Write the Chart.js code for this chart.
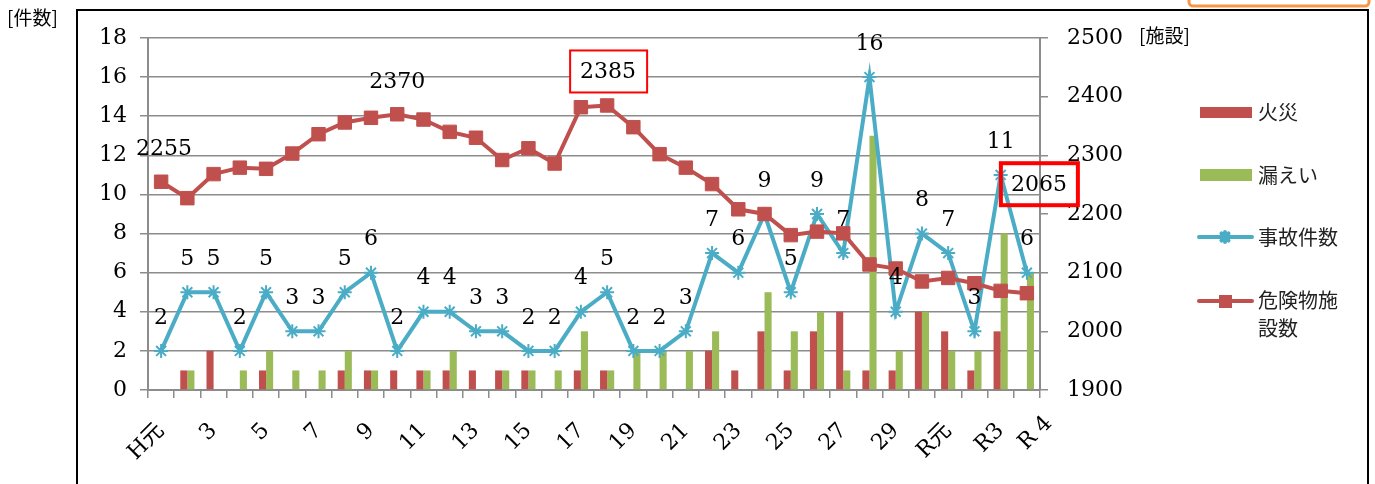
<!DOCTYPE html>
<html>
<head>
<meta charset="utf-8">
<script src="https://cdn.jsdelivr.net/npm/chart.js@4.4.1/dist/chart.umd.min.js"></script>
<style>
  body { margin: 0; background: #fff; }
</style>
</head>
<body>
<canvas id="chartAccidents" width="1375" height="484"></canvas>
<script>
// 年度（H元〜R4）
const years = ['H元', '2', '3', '4', '5', '6', '7', '8', '9', '10',
    '11', '12', '13', '14', '15', '16', '17', '18', '19', '20',
    '21', '22', '23', '24', '25', '26', '27', '28', '29', '30',
    'R元', 'R2', 'R3', 'R 4'];

const fires = [0, 1, 2, 0, 1, 0, 0, 1, 1, 1, 1, 1, 1, 1, 1, 0, 1, 1, 0, 0,
    0, 2, 1, 3, 1, 3, 4, 1, 1, 4, 3, 1, 3, 0];
const leaks = [0, 1, 0, 1, 2, 1, 1, 2, 1, 0, 1, 2, 0, 1, 1, 1, 3, 1, 2, 2,
    2, 3, 0, 5, 3, 4, 1, 13, 2, 4, 2, 2, 8, 6];
const accidents = [2, 5, 5, 2, 5, 3, 3, 5, 6, 2, 4, 4, 3, 3, 2, 2, 4, 5, 2, 2,
    3, 7, 6, 9, 5, 9, 7, 16, 4, 8, 7, 3, 11, 6];
const facilities = [2255, 2227, 2268, 2279, 2277, 2303, 2336, 2356, 2364, 2370,
    2361, 2340, 2330, 2292, 2312, 2286, 2382, 2385, 2348, 2302,
    2279, 2251, 2208, 2200, 2164, 2170, 2167, 2114, 2107, 2085,
    2091, 2082, 2069, 2065];

const legendNames = ['火災', '漏えい', '事故件数', '危険物施設数'];

const RED = '#C0504D';
const GREEN = '#9BBB59';
const BLUE = '#4BACC6';
const GRID = '#8c8c8c';
const NUM_FONT = '"DejaVu Serif", "Liberation Serif", serif';
const JP_FONT = '"Noto Sans CJK JP", sans-serif';
const TICK_FONT = { family: NUM_FONT + ', ' + JP_FONT, size: 22 };

// which facility values get a label, and where
const facilityLabels = [
    { i: 0, dx: 3, dy: -33 },
    { i: 9, dx: 0, dy: -33 },
    { i: 17, dx: 1, dy: -34, box: 2 },
    { i: 33, dx: 12, dy: -109, box: 4 }
];

const valueLabels = {
    id: 'valueLabels',
    afterDatasetsDraw(chart) {
        const ctx = chart.ctx;
        ctx.save();
        ctx.font = '22px ' + NUM_FONT;
        ctx.textAlign = 'center';
        ctx.textBaseline = 'middle';
        ctx.fillStyle = '#000';
        chart.getDatasetMeta(2).data.forEach(function (pt, i) {
            ctx.fillText(String(accidents[i]), pt.x, pt.y - 33);
        });
        const meta = chart.getDatasetMeta(3);
        facilityLabels.forEach(function (l) {
            const pt = meta.data[l.i];
            const x = pt.x + l.dx, y = pt.y + l.dy;
            if (l.box) {
                ctx.lineWidth = l.box;
                ctx.strokeStyle = '#ff0000';
                if (l.box < 3) {
                    ctx.fillStyle = '#fff';
                    ctx.fillRect(x - 38, y - 21, 77, 42);
                }
                ctx.strokeRect(x - 38, y - 21, 77, 42);
                ctx.fillStyle = '#000';
            }
            ctx.fillText(String(facilities[l.i]), x, y + 1);
        });

        // last year label sits a little right of its tick
        const last = years.length - 1;
        const xs = chart.scales.x;
        ctx.translate(xs.getPixelForValue(last) + 22, xs.top + 30);
        ctx.rotate(-Math.PI / 4);
        ctx.font = TICK_FONT.size + 'px ' + TICK_FONT.family;
        ctx.textAlign = 'right';
        ctx.fillText(years[last], 0, 0);
        ctx.restore();
    }
};

const frameAndLegend = {
    id: 'frameAndLegend',
    afterDraw(chart) {
        const ctx = chart.ctx;
        ctx.save();
        // outer frame
        ctx.strokeStyle = '#000';
        ctx.lineWidth = 2;
        ctx.strokeRect(77, 10, 1291, 500);
        // orange box peeking at top right
        ctx.strokeStyle = '#F79646';
        ctx.lineWidth = 3;
        ctx.beginPath();
        ctx.roundRect(1189, -10, 180, 16, 4);
        ctx.stroke();

        ctx.fillStyle = '#000';
        ctx.font = '19px ' + JP_FONT;
        ctx.textBaseline = 'middle';
        ctx.textAlign = 'left';
        ctx.fillText('[件数]', 7, 18);
        ctx.fillText('[施設]', 1139, 36);

        // legend
        ctx.fillStyle = RED;
        ctx.fillRect(1200, 107, 52, 11);
        ctx.fillStyle = GREEN;
        ctx.fillRect(1200, 169, 52, 12);

        ctx.lineCap = 'round';
        ctx.lineWidth = 4;
        ctx.strokeStyle = BLUE;
        ctx.beginPath();
        ctx.moveTo(1199, 237);
        ctx.lineTo(1252, 237);
        ctx.stroke();
        Chart.helpers.drawPoint(ctx, { pointStyle: 'star', radius: 5, borderWidth: 2 }, 1225, 237);

        ctx.strokeStyle = RED;
        ctx.beginPath();
        ctx.moveTo(1199, 301);
        ctx.lineTo(1252, 301);
        ctx.stroke();
        ctx.fillStyle = RED;
        ctx.fillRect(1219, 295, 13, 13);

        ctx.fillStyle = '#222';
        ctx.font = '20px ' + JP_FONT;
        ctx.fillText(legendNames[0], 1258, 112);
        ctx.fillText(legendNames[1], 1258, 175);
        ctx.fillText(legendNames[2], 1258, 237);
        ctx.fillText(legendNames[3].slice(0, 4), 1258, 300);
        ctx.fillText(legendNames[3].slice(4), 1258, 328);
        ctx.restore();
    }
};

new Chart(document.getElementById('chartAccidents'), {
    data: {
        labels: years,
        datasets: [
            {
                type: 'bar',
                label: legendNames[0],
                data: fires,
                backgroundColor: RED,
                yAxisID: 'y',
                order: 2,
                categoryPercentage: 0.54,
                barPercentage: 1
            },
            {
                type: 'bar',
                label: legendNames[1],
                data: leaks,
                backgroundColor: GREEN,
                yAxisID: 'y',
                order: 3,
                categoryPercentage: 0.54,
                barPercentage: 1
            },
            {
                type: 'line',
                label: legendNames[2],
                data: accidents,
                borderColor: BLUE,
                backgroundColor: BLUE,
                borderWidth: 4,
                pointStyle: 'star',
                pointRadius: 7,
                pointBorderWidth: 2,
                pointBorderColor: BLUE,
                tension: 0,
                yAxisID: 'y',
                order: 1
            },
            {
                type: 'line',
                label: legendNames[3],
                data: facilities,
                borderColor: RED,
                backgroundColor: RED,
                borderWidth: 4,
                pointStyle: 'rect',
                pointRadius: 9.5,
                pointBorderWidth: 1,
                pointBorderColor: RED,
                tension: 0,
                yAxisID: 'y1',
                order: 0
            }
        ]
    },
    options: {
        responsive: false,
        animation: false,
        layout: { padding: { left: 0, right: 235, top: 38, bottom: 0 } },
        plugins: {
            legend: { display: false },
            tooltip: { enabled: false }
        },
        scales: {
            x: {
                offset: true,
                grid: {
                    offset: true,
                    drawOnChartArea: false,
                    tickLength: 8,
                    color: GRID,
                    lineWidth: 1.5
                },
                border: { color: GRID, width: 2 },
                ticks: {
                    autoSkip: false,
                    maxRotation: 45,
                    minRotation: 45,
                    padding: 20,
                    color: '#000',
                    font: TICK_FONT,
                    callback: function (value, index) {
                        return (index % 2 === 0 && index < years.length - 1) ? years[index] : '';
                    }
                },
                afterFit: function (scale) { scale.height = 94; }
            },
            y: {
                position: 'left',
                min: 0,
                max: 18,
                ticks: {
                    stepSize: 2,
                    padding: 13,
                    color: '#000',
                    font: { family: NUM_FONT, size: 22 }
                },
                grid: { color: GRID, lineWidth: 1.5, tickLength: 8 },
                border: { color: GRID, width: 2 },
                afterFit: function (scale) { scale.width = 148; }
            },
            y1: {
                position: 'right',
                min: 1900,
                max: 2500,
                ticks: {
                    stepSize: 100,
                    padding: 19,
                    color: '#000',
                    font: { family: NUM_FONT, size: 22 },
                    callback: function (value) { return String(value); }
                },
                grid: { drawOnChartArea: false, color: GRID, lineWidth: 1.5, tickLength: 8 },
                border: { color: GRID, width: 2 },
                afterFit: function (scale) { scale.width = 100; }
            }
        }
    },
    plugins: [valueLabels, frameAndLegend]
});
</script>
</body>
</html>
